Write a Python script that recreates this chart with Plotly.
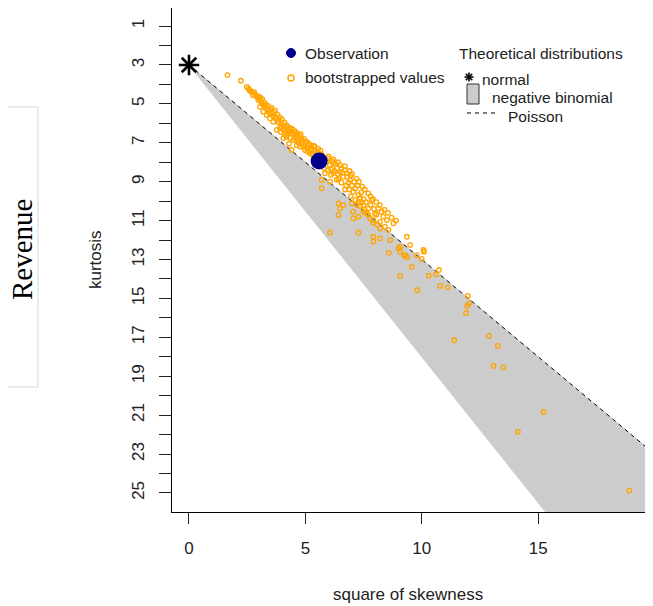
import plotly.graph_objects as go

# ---------------- data ----------------
obs_s2 = [5.59]
obs_kurt = [7.94]

normal_s2 = [0.0]
normal_kurt = [3.0]

boot_s2 = [
    1.65, 2.23, 2.48, 2.55, 2.59, 2.84, 2.91, 2.98, 3.12, 3.05, 3.27, 3.41, 3.19, 3.34, 3.55, 3.70,
    3.48, 3.62, 3.84, 3.98, 4.13, 3.91, 3.77, 4.27, 4.41, 4.20, 4.56, 4.05, 4.70, 4.84, 4.63, 4.98,
    5.20, 5.41, 5.56, 4.41,
    4.34, 4.63, 4.84, 5.06, 4.20, 4.48, 4.77, 4.98, 5.20,
    5.99, 6.20, 6.35, 6.49, 6.78, 6.63, 6.92, 6.42, 6.20, 5.99,
    5.70, 5.70, 5.84, 6.06,
    7.06, 7.28, 7.35, 7.28, 7.21, 6.99,
    7.85, 7.49, 7.71, 8.13, 8.28, 7.99, 7.64,
    6.42, 6.63, 6.49, 6.42, 7.06, 7.28, 7.06,
    7.78, 7.92, 8.21, 8.50, 8.78, 8.42, 8.57, 8.21,
    6.06, 7.28,
    7.92, 8.21, 7.92, 8.64, 9.36, 9.50, 9.07, 9.28, 10.07, 9.00,
    8.58, 9.07, 9.25, 9.38, 9.79, 10.10, 10.00, 9.57, 9.07, 10.30, 10.61, 10.74, 9.81, 10.79, 11.12,
    11.98, 12.03, 11.96, 11.90, 11.40, 12.89, 13.27, 13.08, 13.51, 15.23, 14.13, 18.92,
    2.70, 2.75, 3.00, 3.10, 3.20, 3.35, 3.45, 3.60, 3.75, 3.85, 3.95, 4.05, 4.15, 4.30, 4.35, 4.50,
    4.60, 4.70, 4.85, 4.90, 5.05, 5.10, 5.25, 5.30, 5.45, 5.35, 5.55,
    5.60, 5.75, 5.80, 5.90, 6.05, 6.10, 6.15, 6.30, 6.25, 6.40, 6.55, 6.60, 6.70, 6.80, 6.85, 6.95,
    7.00, 7.10, 7.15, 7.25, 6.75, 6.90, 7.40, 7.50, 7.60, 7.40, 7.80, 7.95, 8.05, 8.35, 8.10, 7.55,
    2.65, 2.80, 2.95, 3.05, 3.15, 3.25, 3.30, 3.40, 3.50, 3.55, 3.65, 3.70, 3.80, 3.90, 4.00, 4.10,
    4.20, 4.25, 4.35, 4.45, 4.55, 4.65, 4.75, 4.80, 4.95, 5.00, 5.15, 5.25, 5.40, 5.50, 5.65, 5.70,
    4.30, 4.10, 3.95,
    6.00, 6.20, 6.40, 6.50, 6.70, 6.90, 7.00, 7.20, 7.30, 7.45, 7.55, 7.70, 7.80, 7.90, 8.05, 8.20,
    8.40, 8.55, 8.70, 8.90, 6.10, 6.35, 6.55, 6.70, 6.95, 7.15, 7.35, 7.50, 7.70, 7.90,
]
boot_kurt = [
    3.52, 3.81, 4.12, 4.20, 4.29, 4.51, 4.63, 4.80, 4.97, 5.15, 5.15, 5.32, 5.40, 5.57, 5.49, 5.66,
    5.74, 5.92, 5.83, 6.00, 6.17, 6.26, 6.34, 6.34, 6.43, 6.60, 6.69, 6.77, 6.86, 7.03, 7.12, 7.12,
    7.29, 7.37, 7.54, 7.37,
    6.43, 6.60, 6.77, 6.95, 6.69, 6.86, 7.20, 7.37, 7.54,
    7.80, 8.06, 8.31, 8.49, 8.57, 8.74, 8.91, 8.83, 8.57, 8.40,
    8.91, 9.34, 8.57, 9.00,
    9.51, 9.68, 9.85, 10.03, 10.20, 10.11,
    9.94, 10.20, 10.37, 10.37, 10.54, 10.63, 10.63,
    10.11, 10.20, 10.37, 10.71, 10.54, 10.80, 10.88,
    10.88, 10.97, 11.06, 10.97, 11.14, 11.31, 11.48, 11.40,
    11.62, 11.62,
    11.83, 11.91, 12.08, 12.00, 11.83, 12.25, 12.34, 12.77, 12.51, 12.42,
    12.66, 12.60, 12.80, 12.89, 12.77, 12.60, 12.97, 13.38, 13.83, 13.83, 13.76, 13.54, 14.58, 14.36, 14.43,
    14.87, 15.25, 15.39, 15.75, 17.15, 16.93, 17.44, 18.47, 18.54, 20.84, 21.86, 24.88,
    4.40, 4.55, 4.70, 4.85, 5.05, 5.25, 5.45, 5.60, 5.75, 5.95, 6.15, 6.30, 6.45, 6.50, 6.75, 6.55,
    6.85, 7.00, 6.90, 7.20, 7.25, 7.45, 7.40, 7.60, 7.65, 7.15, 7.30,
    8.20, 8.10, 8.30, 7.95, 8.15, 8.35, 7.95, 8.10, 8.45, 8.60, 8.30, 8.55, 8.40, 8.75, 9.05, 8.70,
    9.20, 9.00, 9.35, 9.20, 9.20, 9.40, 9.55, 9.90, 10.05, 10.05, 10.20, 10.40, 10.70, 10.80, 11.20, 10.45,
    4.35, 4.40, 4.60, 4.65, 4.75, 4.95, 5.05, 5.10, 5.30, 5.20, 5.45, 5.35, 5.55, 5.70, 5.80, 5.95,
    6.10, 6.20, 6.25, 6.30, 6.40, 6.50, 6.65, 6.55, 6.80, 6.95, 7.05, 7.15, 7.20, 7.45, 7.40, 7.60,
    7.05, 6.55, 6.45,
    7.70, 7.85, 8.00, 8.15, 8.20, 8.45, 8.60, 8.85, 9.00, 9.25, 9.40, 9.60, 9.75, 9.90, 10.05, 10.20,
    10.45, 10.60, 10.85, 11.00, 8.65, 8.90, 9.05, 9.40, 9.75, 9.95, 10.25, 10.55, 10.70, 11.10,
]

x_ticks = [0, 5, 10, 15]
y_ticks = list(range(1, 26))
y_ticktext = [str(v) if v % 2 == 1 else "" for v in y_ticks]

# theoretical bounds (Cullen-Frey): Poisson kurt = 3 + s2 ; negative binomial between 3 + s2 and 3 + 1.5 s2
theory_s2 = [0.0, 100.0]
pois_kurt = [3 + s for s in theory_s2]
nb_poly_s2 = [0.0, 100.0, 100.0, 0.0]
nb_poly_kurt = [3.0, 3 + 1.5 * 100.0, 3 + 100.0, 3.0]

# ---------------- layout geometry ----------------
# page body has an 8px margin, so the figure is drawn at (8, 8) in the window
OFF = 8
W, H = 653 - OFF, 606 - OFF
L, R, T, B = 172 - OFF, 5, 8 - OFF, 94
PW, PH = W - L - R, H - T - B


def px(x):  # window pixel -> paper x
    return (x - OFF - L) / PW


def py(y):  # window pixel -> paper y
    return (H - B - (y - OFF)) / PH


FONT = "Liberation Sans, Arial, sans-serif"

fig = go.Figure()

fig.add_trace(go.Scatter(
    x=nb_poly_s2, y=nb_poly_kurt, mode="lines", fill="toself",
    fillcolor="#cccccc", line=dict(color="#cccccc", width=1), hoverinfo="skip", showlegend=False))

fig.add_trace(go.Scatter(
    x=theory_s2, y=pois_kurt, mode="lines",
    line=dict(color="black", width=1, dash="4px,4px"), showlegend=False))

fig.add_trace(go.Scatter(
    x=boot_s2, y=boot_kurt, mode="markers",
    marker=dict(symbol="circle-open", size=4.5, color="#FFA500", line=dict(width=1.3, color="#FFA500")),
    showlegend=False))

fig.add_trace(go.Scatter(
    x=obs_s2, y=obs_kurt, mode="markers",
    marker=dict(symbol="circle", size=17, color="#00008B"), showlegend=False))

fig.add_trace(go.Scatter(
    x=normal_s2, y=normal_kurt, mode="markers",
    marker=dict(symbol="asterisk-open", size=17, color="black", line=dict(width=2.6, color="black")),
    showlegend=False, cliponaxis=False))

shapes = []
annotations = []

# Revenue side box
shapes.append(dict(type="rect", xref="paper", yref="paper",
                   x0=px(0), x1=px(38), y0=py(387), y1=py(107),
                   line=dict(color="#d9d9d9", width=1), fillcolor="rgba(0,0,0,0)"))
annotations.append(dict(xref="paper", yref="paper", x=px(22), y=py(250), text="Revenue",
                        textangle=-90, showarrow=False, xanchor="center", yanchor="middle",
                        font=dict(family="Liberation Serif, Times New Roman, serif", size=29, color="black")))

# axis titles
annotations.append(dict(xref="paper", yref="paper", x=px(95), y=py(260), text="kurtosis",
                        textangle=-90, showarrow=False, xanchor="center", yanchor="middle",
                        font=dict(family=FONT, size=17, color="#222222")))
annotations.append(dict(xref="paper", yref="paper", x=px(408), y=py(594), text="square of skewness",
                        showarrow=False, xanchor="center", yanchor="middle",
                        font=dict(family=FONT, size=17, color="#222222")))

# legend entries
LF = dict(family=FONT, size=15.5, color="#222222")
shapes.append(dict(type="circle", xref="paper", yref="paper",
                   x0=px(286.5), x1=px(295.5), y0=py(57.5), y1=py(48.5),
                   fillcolor="#00008B", line=dict(color="#00008B", width=1)))
shapes.append(dict(type="circle", xref="paper", yref="paper",
                   x0=px(288), x1=px(294), y0=py(81), y1=py(75),
                   fillcolor="rgba(0,0,0,0)", line=dict(color="#FFA500", width=1.5)))
for txt, x, y in [("Observation", 303, 53), ("bootstrapped values", 303, 78),
                  ("Theoretical distributions", 457, 53), ("normal", 480, 79),
                  ("negative binomial", 490, 97), ("Poisson", 506, 116)]:
    annotations.append(dict(xref="paper", yref="paper", x=px(x), y=py(y), text=txt,
                            showarrow=False, xanchor="left", yanchor="middle", font=LF))
# asterisk legend symbol
cx, cy, r = 469, 77, 4.5
for dx, dy in [(r, 0), (0, r), (r * 0.72, r * 0.72), (r * 0.72, -r * 0.72)]:
    shapes.append(dict(type="line", xref="paper", yref="paper",
                       x0=px(cx - dx), x1=px(cx + dx), y0=py(cy - dy), y1=py(cy + dy),
                       line=dict(color="black", width=1.6)))
shapes.append(dict(type="rect", xref="paper", yref="paper",
                   x0=px(467), x1=px(479), y0=py(104), y1=py(84),
                   fillcolor="#cccccc", line=dict(color="#333333", width=1)))
shapes.append(dict(type="line", xref="paper", yref="paper",
                   x0=px(467), x1=px(496), y0=py(113), y1=py(113),
                   line=dict(color="black", width=1, dash="4px,4px")))

fig.update_layout(
    width=W, height=H,
    margin=dict(l=L, r=R, t=T, b=B, pad=0),
    paper_bgcolor="white", plot_bgcolor="white",
    showlegend=False,
    shapes=shapes, annotations=annotations,
    xaxis=dict(range=[-0.73, 19.72], tickvals=x_ticks, ticktext=[str(v) for v in x_ticks],
               ticks="outside", ticklen=11, tickwidth=1, tickcolor="#222222",
               showline=True, mirror=True, linecolor="black", linewidth=1,
               showgrid=False, zeroline=False, layer="below traces",
               tickfont=dict(family=FONT, size=17, color="#222222"), ticklabelstandoff=10),
    yaxis=dict(range=[25.98, 0.07], tickvals=y_ticks, ticktext=y_ticktext,
               ticks="outside", ticklen=12, tickwidth=1, tickcolor="#222222", tickangle=-90,
               showline=True, mirror=True, linecolor="black", linewidth=1,
               showgrid=False, zeroline=False, layer="below traces",
               tickfont=dict(family=FONT, size=17, color="#222222"), ticklabelstandoff=8),
)

fig.write_html("out.html")
